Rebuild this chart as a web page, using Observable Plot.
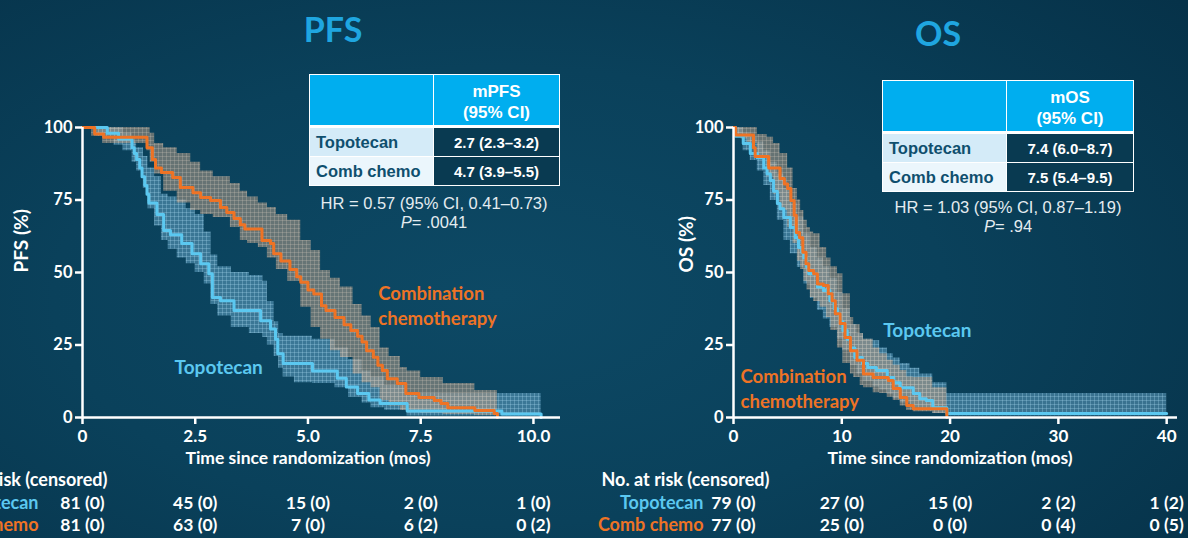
<!DOCTYPE html>
<html><head><meta charset="utf-8">
<script src="https://cdn.jsdelivr.net/npm/d3@7"></script>
<script src="https://cdn.jsdelivr.net/npm/@observablehq/plot@0.6"></script>
<style>
html,body{margin:0;padding:0;}
body{width:1188px;height:538px;overflow:hidden;position:relative;font-family:Lato,sans-serif;
background:radial-gradient(ellipse 75% 85% at 42% 55%, #0d4965 0%, #0a415b 50%, #063249 100%);}
.panel{position:absolute;top:0;}
.title{position:absolute;color:#1fa6e0;font-weight:bold;font-size:34px;line-height:1;transform:translate(-50%,-50%);font-family:Lato;}
table.mt{position:absolute;border-collapse:collapse;table-layout:fixed;font-family:"Liberation Sans",Arial,sans-serif;font-weight:bold;}
table.mt td{border:1px solid #fff;padding:0;}
tr.h td{background:#00aeef;color:#fff;height:47px;text-align:center;font-size:17px;line-height:21px;padding-top:3px;border-bottom:3px solid #fff;}
tr.r td{height:28px;font-size:15px;}
td.n{color:#0f4f6e;padding-left:6px !important;text-align:left;font-size:16.5px !important;}
tr.r1 td.n{background:#d4ebf8}
tr.r2 td.n{background:#ebf6fc}
td.v{background:#093a51;color:#fff;text-align:center;}
.hr{position:absolute;transform:translateX(-50%);color:#e4ecf0;font-family:"Liberation Sans",Arial,sans-serif;font-size:16.5px;white-space:nowrap;text-align:center;line-height:19px;}
</style></head>
<body>
<svg width="0" height="0" style="position:absolute"><defs>
 <pattern id="patB" width="4" height="4" patternUnits="userSpaceOnUse">
  <rect width="4" height="4" fill="#6aaacc" fill-opacity="0.5"/>
  <rect width="4" height="1" fill="#a8d8f0" fill-opacity="0.3"/>
  <rect width="1" height="4" fill="#a8d8f0" fill-opacity="0.3"/>
 </pattern>
 <pattern id="patO" width="4" height="4" patternUnits="userSpaceOnUse">
  <rect width="4" height="4" fill="#b09a86" fill-opacity="0.55"/>
  <rect width="4" height="1" fill="#d8ccc0" fill-opacity="0.25"/>
  <rect width="1" height="4" fill="#d8ccc0" fill-opacity="0.25"/>
 </pattern>
</defs></svg>
<div id="pfs" class="panel" style="left:-70px"></div>
<div id="os" class="panel" style="left:594px"></div>
<div class="title" style="left:333px;top:29px">PFS</div>
<div class="title" style="left:938px;top:33px">OS</div>
<table class="mt" id="tpfs" style="left:309px;top:74px;"></table>
<table class="mt" id="tos" style="left:882px;top:80px;"></table>
<div class="hr" id="hrpfs" style="left:434px;top:194px"></div>
<div class="hr" id="hros" style="left:1008px;top:198px"></div>
<script>
// ---------- DATA ----------
const yTicks = [0, 25, 50, 75, 100];
const pfsTicks = [0, 2.5, 5, 7.5, 10];
const pfsTickLabels = ["0", "2.5", "5.0", "7.5", "10.0"];
const osTicks = [0, 10, 20, 30, 40];
const osTickLabels = ["0", "10", "20", "30", "40"];

// PFS Topotecan KM curve
const pfsTopoT = [0, 0.55, 0.8, 1.1, 1.15, 1.2, 1.27, 1.32, 1.38, 1.43, 1.47, 1.65, 1.8, 1.95, 2.2, 2.43, 2.62, 2.8, 2.88, 3.06, 3.36, 3.95, 4.17, 4.28, 4.33, 4.45, 5.1, 5.65, 5.85, 6.1, 6.35, 6.6, 7.2, 9.3, 10.17];
const pfsTopoS = [100, 98, 96, 93, 91, 89, 86, 83, 80, 77, 74, 70, 64.5, 63, 60, 56.5, 53, 49.6, 41.4, 40.3, 36.9, 33.4, 30.5, 27, 22, 18.6, 16, 13.5, 10.5, 8.3, 6, 4.8, 2.2, 1.2, 0];
// PFS Combination chemotherapy KM curve
const pfsCombT = [0, 0.27, 0.47, 1.43, 1.55, 1.62, 1.75, 2.0, 2.17, 2.45, 2.62, 2.84, 3.06, 3.2, 3.36, 3.5, 3.6, 3.98, 4.17, 4.24, 4.4, 4.6, 4.75, 4.84, 5.0, 5.13, 5.3, 5.4, 5.6, 5.8, 5.95, 6.1, 6.2, 6.3, 6.45, 6.55, 6.65, 6.76, 6.98, 7.17, 7.46, 7.8, 7.95, 8.1, 8.7, 9.13, 9.2];
const pfsCombS = [100, 97.8, 96.6, 93, 89, 86, 84.5, 82.8, 79.3, 77.5, 75.9, 74.8, 72.4, 70.7, 68.6, 66.5, 65, 61, 60, 56.5, 54, 51, 48.5, 46.6, 44, 42.6, 38.5, 36.9, 34.5, 32, 30, 28, 26, 23, 20.8, 18, 16.2, 13.4, 11.7, 8.3, 6.9, 5.9, 4.8, 3.4, 2.4, 1.4, 0];
// PFS 95% CI bands
const pfsTopoBandT = [0.3, 0.7, 0.9, 1.1, 1.2, 1.35, 1.45, 1.6, 1.75, 1.9, 2.1, 2.3, 2.5, 2.7, 2.85, 3.0, 3.3, 3.7, 4.0, 4.1, 4.25, 4.35, 4.45, 4.7, 5.1, 5.6, 5.9, 6.2, 6.4, 6.7, 7.2, 10.17];
const pfsTopoHi = [100, 100, 98, 95, 93, 90, 86, 83, 77, 76, 75, 72, 70, 64, 56, 52, 50, 49, 47, 40, 33, 29, 28, 28, 27, 24, 20, 16, 14, 11, 8.3, 8.3];
const pfsTopoLo = [97, 94, 92, 88, 85, 79, 72, 66, 61, 58, 55, 53, 50, 46, 39, 35, 31, 29, 27.6, 25, 21, 17, 14, 12, 11.7, 10.3, 7, 5, 3.4, 2.5, 0.5, 0.5];
const pfsCombBandT = [0.2, 0.45, 1.43, 1.5, 1.6, 1.8, 2.1, 2.4, 2.62, 2.9, 3.28, 3.5, 3.66, 3.9, 4.1, 4.3, 4.55, 4.84, 5.07, 5.28, 5.5, 5.72, 6.0, 6.2, 6.4, 6.6, 6.8, 7.05, 7.2, 7.5, 8.0, 8.7, 9.2];
const pfsCombHi = [100, 100, 100, 98, 94.5, 93, 91, 88, 85, 83, 80.7, 78, 76, 74, 72.4, 70, 68, 61, 57.6, 50.7, 48, 45, 39, 35, 31, 24, 21, 17.2, 16, 13.8, 11.7, 9.3, 8.3];
const pfsCombLo = [97, 94.5, 92, 88, 84, 78, 74, 71.4, 70, 69, 65.5, 61, 60, 58.6, 55, 51, 47, 38, 31, 27, 23, 20.7, 15, 12, 10.3, 5.9, 4, 2.4, 2.0, 1.5, 1.0, 0.7, 0.7];

// OS Topotecan KM curve
const osTopoT = [0, 0.2, 0.9, 1.55, 2.2, 2.8, 3.1, 3.4, 3.7, 4.05, 4.3, 4.65, 5.25, 5.7, 6.0, 6.3, 6.5, 6.75, 6.95, 7.75, 8.3, 8.9, 9.3, 9.6, 9.85, 10.1, 10.5, 10.8, 11.2, 11.9, 12.4, 13.2, 14.2, 14.8, 15.4, 16.6, 17.2, 17.8, 18.4, 19.7, 40];
const osTopoS = [100, 97, 94.5, 91, 89.6, 86, 84, 81.7, 78, 73.8, 72, 69, 65.5, 62, 58.6, 57, 55, 52, 49.6, 45, 43.8, 40.3, 37.5, 35.8, 33, 30, 27, 24, 20.7, 18.6, 17.2, 16.2, 13.8, 12, 10.3, 8.3, 6.5, 5.9, 3.4, 1.4, 1.4];
// OS Combination chemotherapy KM curve
const osCombT = [0, 0.2, 1.85, 2.0, 3.25, 4.3, 4.7, 5.0, 5.3, 5.6, 5.8, 6.1, 6.4, 6.7, 6.95, 7.4, 7.75, 8.3, 8.75, 9.1, 9.4, 9.85, 10.3, 10.8, 11.4, 12.0, 12.9, 14.3, 14.75, 15.4, 16.0, 16.6, 19.7];
const osCombS = [100, 97.4, 93, 90, 86, 82.4, 80.5, 79, 74.8, 69.7, 63.8, 62, 57, 53, 50.7, 49.6, 46, 45.5, 42.7, 40.3, 35.8, 32.4, 27.6, 23, 19.7, 15, 13.8, 12.8, 10, 6.9, 4.1, 3, 0];
// OS 95% CI bands
const osTopoBandT = [0, 0.3, 0.9, 1.55, 2.2, 2.8, 3.4, 4.05, 4.65, 5.25, 5.9, 6.5, 7.1, 7.75, 8.3, 8.9, 9.6, 10.1, 10.8, 11.4, 12.0, 12.9, 13.5, 14.2, 14.75, 15.4, 16.3, 17.2, 18.4, 19.7, 40];
const osTopoHi = [100, 100, 98, 96.6, 95, 92, 88, 84, 79, 74, 69, 63.4, 58.6, 55, 52, 48, 43, 37.5, 32, 29, 27, 26.5, 24, 22, 20.5, 18.6, 17, 15, 12, 8.3, 8.3];
const osTopoLo = [98, 96.6, 92, 88.6, 85, 80, 74.8, 68, 61, 56.5, 51.7, 46, 41, 37, 34, 31, 27, 23, 18, 15, 12.5, 10.5, 9.5, 8, 6.5, 5, 3.4, 2.2, 1.5, 0.5, 0.5];
const osCombBandT = [0, 0.7, 1.3, 2.2, 3.1, 3.7, 4.3, 5.0, 5.5, 5.9, 6.2, 6.5, 6.8, 7.1, 7.4, 8.0, 8.6, 9.0, 9.6, 10.1, 10.8, 11.1, 11.7, 12.0, 12.9, 13.5, 14.2, 14.75, 15.4, 16.0, 16.6, 18.4, 19.7];
const osCombHi = [100, 100, 100, 97.6, 96.6, 94.5, 91, 86, 79, 75, 71.4, 68, 65.5, 64, 63.4, 58.6, 55, 52, 49.6, 42.7, 34.5, 32, 29, 27, 24, 22, 19.7, 18, 16.2, 14, 13.8, 10.3, 10.3];
const osCombLo = [97.6, 96, 94.5, 90, 83, 77, 71.4, 65.5, 60, 54, 51, 47, 44, 41.4, 40, 38, 34.5, 30, 24, 18.6, 15, 13.8, 11, 10.3, 8.5, 8.3, 7, 5.9, 4, 2.4, 2, 1.4, 1.4];

// Numbers at risk
const pfsRiskTopo = ["81 (0)", "45 (0)", "15 (0)", "2 (0)", "1 (0)"];
const pfsRiskComb = ["81 (0)", "63 (0)", "7 (0)", "6 (2)", "0 (2)"];
const osRiskTopo = ["79 (0)", "27 (0)", "15 (0)", "2 (2)", "1 (2)"];
const osRiskComb = ["77 (0)", "25 (0)", "0 (0)", "0 (4)", "0 (5)"];

// Median tables
const armNames = ["Topotecan", "Comb chemo"];
const pfsMedian = ["2.7 (2.3–3.2)", "4.7 (3.9–5.5)"];
const osMedian = ["7.4 (6.0–8.7)", "7.5 (5.4–9.5)"];
const pfsHR = "HR = 0.57 (95% CI, 0.41–0.73)";
const pfsP = ".0041";
const osHR = "HR = 1.03 (95% CI, 0.87–1.19)";
const osP = ".94";

// ---------- BUILD ----------
const BLUE = "#5bc8f0", ORANGE = "#ee7325";
const zip2 = (t, s) => t.map((v, i) => ({t: v, s: s[i]}));
const zip3 = (t, lo, hi) => t.map((v, i) => ({t: v, lo: lo[i], hi: hi[i]}));

function panel(c) {
  const fmt = new Map(c.ticks.map((d, i) => [d, c.tickLabels[i]]));
  const risk1 = c.ticks.map((d, i) => ({t: d, label: c.riskTopo[i]}));
  const risk2 = c.ticks.map((d, i) => ({t: d, label: c.riskComb[i]}));
  const txt = {fontFamily: "Lato", fontWeight: "bold"};
  return Plot.plot({
    width: c.width, height: 538,
    marginLeft: c.ml, marginRight: c.mr, marginTop: 127, marginBottom: 121,
    x: {domain: [0, c.xMax]},
    y: {domain: [0, 100]},
    style: {background: "transparent", color: "white", fontFamily: "Lato", overflow: "visible"},
    marks: [
      Plot.areaY(zip3(c.bandTopo[0], c.bandTopo[1], c.bandTopo[2]), {x: "t", y1: "lo", y2: "hi", curve: "step-after", fill: "url(#patB)"}),
      Plot.areaY(zip3(c.bandComb[0], c.bandComb[1], c.bandComb[2]), {x: "t", y1: "lo", y2: "hi", curve: "step-after", fill: "url(#patO)"}),
      Plot.line(zip2(c.topo[0], c.topo[1]), {x: "t", y: "s", curve: "step-after", stroke: BLUE, strokeWidth: 3}),
      Plot.line(zip2(c.comb[0], c.comb[1]), {x: "t", y: "s", curve: "step-after", stroke: ORANGE, strokeWidth: 3}),
      Plot.ruleX([0], {stroke: "white", strokeWidth: 2.5}),
      Plot.ruleY([0], {stroke: "white", strokeWidth: 2.5}),
      Plot.axisY({ticks: yTicks, tickSize: 7, tickPadding: 3, fontSize: 16.5, fontWeight: "bold", label: null, strokeWidth: 2.5}),
      Plot.axisX({ticks: c.ticks, tickFormat: d => fmt.get(d), tickSize: 7, tickPadding: 5, fontSize: 17, fontWeight: "bold", label: null, strokeWidth: 2.5}),
      Plot.text([c.yTitle], {frameAnchor: "left", dx: c.yTitleDx, rotate: -90, fontSize: 19, ...txt, fill: "white"}),
      Plot.text([{t: c.xMid, label: "Time since randomization (mos)"}], {x: "t", text: "label", frameAnchor: "bottom", dy: 46, fontSize: 17.5, ...txt, fill: "white"}),
      Plot.text(["No. at risk (censored)"], {frameAnchor: "bottom-left", dx: c.riskTitleDx, dy: 68, textAnchor: "start", fontSize: 18, ...txt, fill: "white"}),
      Plot.text([armNames[0]], {frameAnchor: "bottom-left", dx: c.armDx, dy: 91, textAnchor: "end", fontSize: 18, ...txt, fill: BLUE}),
      Plot.text([armNames[1]], {frameAnchor: "bottom-left", dx: c.armDx, dy: 113, textAnchor: "end", fontSize: 18, ...txt, fill: ORANGE}),
      Plot.text(risk1, {x: "t", text: "label", frameAnchor: "bottom", dy: 91, fontSize: 17.5, ...txt, fill: "white"}),
      Plot.text(risk2, {x: "t", text: "label", frameAnchor: "bottom", dy: 113, fontSize: 17.5, ...txt, fill: "white"}),
      Plot.text([c.topoLabel], {x: "x", y: "y", text: "text", textAnchor: c.topoLabel.anchor, fontSize: 19, ...txt, fill: BLUE}),
      Plot.text([c.combLabel], {x: "x", y: "y", text: "text", textAnchor: "start", lineHeight: 1.35, fontSize: 18.5, ...txt, fill: ORANGE})
    ]
  });
}

document.getElementById("pfs").append(panel({
  width: 664, ml: 152, mr: 34, xMax: 10.6, xMid: 5,
  ticks: pfsTicks, tickLabels: pfsTickLabels,
  topo: [pfsTopoT, pfsTopoS], comb: [pfsCombT, pfsCombS],
  bandTopo: [pfsTopoBandT, pfsTopoLo, pfsTopoHi], bandComb: [pfsCombBandT, pfsCombLo, pfsCombHi],
  riskTopo: pfsRiskTopo, riskComb: pfsRiskComb,
  yTitle: "PFS (%)", yTitleDx: -61, riskTitleDx: -143, armDx: -44,
  topoLabel: {x: 3.02, y: 17, text: "Topotecan", anchor: "middle"},
  combLabel: {x: 6.56, y: 39, text: "Combination\nchemotherapy"}
}));
document.getElementById("os").append(panel({
  width: 594, ml: 139, mr: 11, xMax: 41, xMid: 20,
  ticks: osTicks, tickLabels: osTickLabels,
  topo: [osTopoT, osTopoS], comb: [osCombT, osCombS],
  bandTopo: [osTopoBandT, osTopoLo, osTopoHi], bandComb: [osCombBandT, osCombLo, osCombHi],
  riskTopo: osRiskTopo, riskComb: osRiskComb,
  yTitle: "OS (%)", yTitleDx: -47, riskTitleDx: -132, armDx: -30,
  topoLabel: {x: 17.9, y: 30, text: "Topotecan", anchor: "middle"},
  combLabel: {x: 0.65, y: 10.5, text: "Combination\nchemotherapy"}
}));

function makeTable(id, header, vals, w1, w2) {
  const t = document.getElementById(id);
  t.innerHTML = `<colgroup><col style="width:${w1}px"><col style="width:${w2}px"></colgroup>` +
    `<tr class="h"><td></td><td>${header}<br>(95% CI)</td></tr>` +
    armNames.map((n, i) => `<tr class="r r${i + 1}"><td class="n">${n}</td><td class="v">${vals[i]}</td></tr>`).join("");
}
makeTable("tpfs", "mPFS", pfsMedian, 124, 126);
makeTable("tos", "mOS", osMedian, 124, 127);
document.getElementById("hrpfs").innerHTML = `${pfsHR}<br><i>P</i>= ${pfsP}`;
document.getElementById("hros").innerHTML = `${osHR}<br><i>P</i>= ${osP}`;
</script>
</body></html>
